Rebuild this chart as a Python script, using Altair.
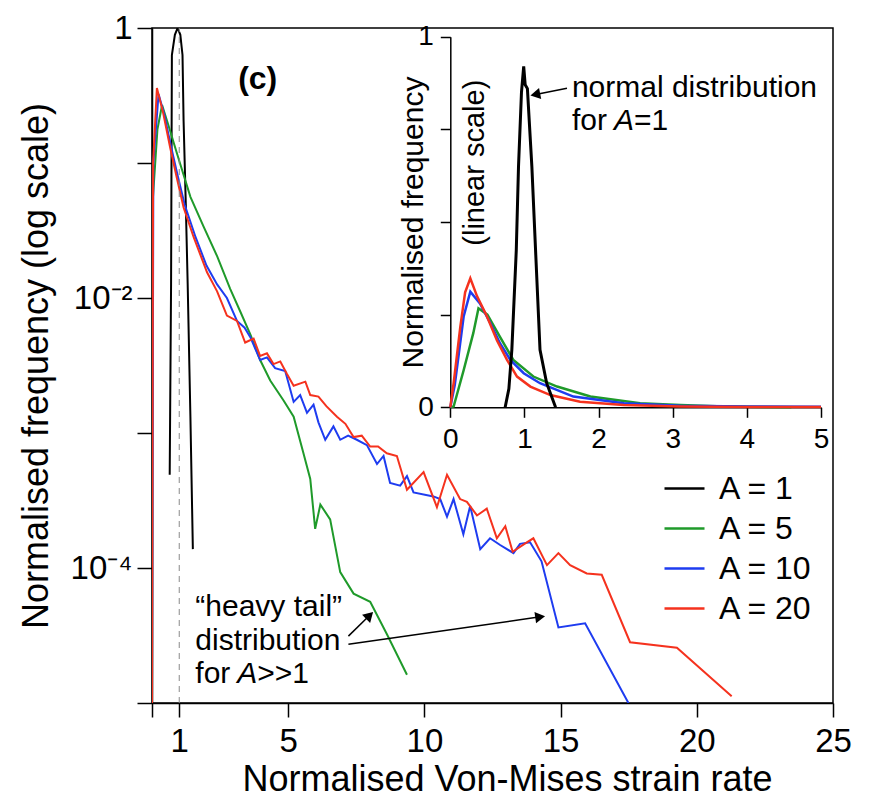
import altair as alt
import pandas as pd

FONT = "Liberation Sans, Arial, Helvetica, sans-serif"
SERIES = ["A = 1", "A = 5", "A = 10", "A = 20"]
COLORS = ["#000000", "#1f9a2a", "#1e3cf0", "#f5321e"]

# ---------------- main panel (log scale) ----------------
a1_x = [0.65, 0.70, 0.73, 0.84, 0.94, 1.04, 1.12, 1.16, 1.24, 1.31, 1.41, 1.50]
a1_y = [4.90e-4, 1.26e-2, 0.631, 0.891, 1.0, 0.891, 0.631, 0.204, 5.0e-2, 1.26e-2, 1.32e-3, 1.38e-4]

a5_x = [0.00, 0.02, 0.20, 0.37, 0.60, 0.92, 1.41, 1.89, 2.39, 2.87, 3.24, 3.61, 3.97, 4.34,
        4.83, 5.20, 5.56, 5.81, 5.99, 6.18, 6.54, 6.91, 7.40, 8.01, 8.62, 9.36]
a5_y = [1.0e-5, 5.01e-2, 0.178, 0.269, 0.191, 0.117, 5.62e-2, 3.39e-2, 2.04e-2, 1.17e-2, 7.94e-3,
        5.37e-3, 3.47e-3, 2.45e-3, 1.74e-3, 1.32e-3, 7.08e-4, 4.57e-4, 1.95e-4, 2.95e-4, 2.29e-4,
        9.33e-5, 6.46e-5, 5.62e-5, 3.24e-5, 1.62e-5]

a10_x = [0.00, 0.05, 0.24, 0.45, 0.70, 0.95, 1.20, 1.60, 2.00, 2.39, 2.75, 3.12, 3.40, 3.61, 3.97,
         4.22, 4.52, 4.89, 5.20, 5.44, 5.69, 5.93, 6.11, 6.36, 6.66, 6.91, 7.20, 7.52, 7.89, 8.26,
         8.50, 8.74, 9.11, 9.36, 9.60, 10.33, 10.58, 10.83, 11.07, 11.43, 11.68, 12.05, 12.41,
         12.78, 13.27, 13.51, 13.88, 14.30, 14.92, 15.90, 17.49]
a10_y = [1.0e-5, 0.100, 0.324, 0.229, 0.132, 7.94e-2, 4.90e-2, 2.82e-2, 1.74e-2, 1.26e-2, 1.00e-2,
         6.76e-3, 6.03e-3, 5.13e-3, 3.47e-3, 3.63e-3, 3.02e-3, 2.88e-3, 1.70e-3, 1.91e-3, 1.41e-3,
         1.62e-3, 1.20e-3, 8.91e-4, 1.12e-3, 8.91e-4, 9.55e-4, 8.91e-4, 8.13e-4, 5.89e-4, 6.76e-4,
         4.27e-4, 4.07e-4, 4.79e-4, 3.63e-4, 3.39e-4, 3.24e-4, 2.40e-4, 3.24e-4, 1.78e-4, 2.88e-4,
         1.38e-4, 1.66e-4, 1.48e-4, 1.29e-4, 1.51e-4, 1.55e-4, 1.12e-4, 3.63e-5, 3.89e-5, 1.0e-5]

a20_x = [0.00, 0.04, 0.18, 0.40, 0.67, 0.90, 1.16, 1.53, 2.02, 2.39, 2.75, 3.12, 3.42, 3.73, 3.97,
         4.22, 4.46, 4.71, 4.95, 5.20, 5.63, 5.81, 6.11, 6.40, 6.79, 7.10, 7.40, 7.70, 8.01, 8.30,
         8.62, 8.99, 9.36, 9.97, 10.46, 10.83, 11.31, 11.56, 11.93, 12.29, 12.66, 12.97, 13.24,
         13.76, 14.00, 14.50, 14.92, 15.35, 15.96, 16.51, 17.55, 19.27, 21.28]
a20_y = [1.0e-5, 0.100, 0.359, 0.240, 0.129, 7.94e-2, 4.68e-2, 2.82e-2, 1.55e-2, 1.12e-2, 7.41e-3,
         6.76e-3, 4.68e-3, 5.01e-3, 3.72e-3, 3.89e-3, 3.24e-3, 3.39e-3, 2.75e-3, 2.24e-3, 2.40e-3,
         1.91e-3, 1.86e-3, 1.58e-3, 1.32e-3, 1.17e-3, 9.33e-4, 9.55e-4, 7.94e-4, 7.94e-4, 7.08e-4,
         6.76e-4, 3.80e-4, 5.13e-4, 2.82e-4, 4.90e-4, 3.24e-4, 3.09e-4, 2.45e-4, 2.75e-4, 1.66e-4,
         2.04e-4, 1.32e-4, 1.55e-4, 1.66e-4, 1.05e-4, 1.29e-4, 1.05e-4, 9.12e-5, 8.91e-5, 2.82e-5,
         2.57e-5, 1.12e-5]

# ---------------- inset panel (linear scale) ----------------
in1_x = [0.74, 0.79, 0.83, 0.89, 0.92, 0.96, 0.99, 1.01, 1.04, 1.10, 1.15, 1.21, 1.30, 1.42]
in1_y = [0.0, 0.05, 0.155, 0.424, 0.65, 0.85, 0.92, 0.87, 0.86, 0.65, 0.424, 0.155, 0.065, 0.0]

in5_x = [0.0, 0.045, 0.18, 0.31, 0.38, 0.50, 0.67, 0.85, 1.12, 1.44, 1.89, 2.56, 3.10, 3.60, 4.20, 4.60]
in5_y = [0.0, 0.002, 0.10, 0.20, 0.267, 0.25, 0.19, 0.128, 0.083, 0.056, 0.029, 0.011, 0.006, 0.003, 0.001, 0.0]

in10_x = [0.0, 0.06, 0.18, 0.27, 0.40, 0.54, 0.67, 0.81, 0.99, 1.21, 1.66, 2.34, 3.10, 4.00, 5.00]
in10_y = [0.0, 0.06, 0.245, 0.312, 0.28, 0.227, 0.173, 0.128, 0.092, 0.065, 0.029, 0.011, 0.004, 0.002, 0.0015]

in20_x = [0.0, 0.045, 0.135, 0.20, 0.27, 0.36, 0.495, 0.63, 0.765, 0.90, 1.08, 1.35, 1.75, 2.34, 3.10, 4.00, 5.00]
in20_y = [0.0, 0.065, 0.217, 0.31, 0.348, 0.30, 0.245, 0.18, 0.128, 0.083, 0.056, 0.033, 0.015, 0.006, 0.002, 0.001, 0.0005]


def rows(xs, ys, name):
    return [{"x": a, "y": b, "series": name, "i": k} for k, (a, b) in enumerate(zip(xs, ys))]


main_df = pd.DataFrame(rows(a1_x, a1_y, SERIES[0]) + rows(a5_x, a5_y, SERIES[1])
                       + rows(a10_x, a10_y, SERIES[2]) + rows(a20_x, a20_y, SERIES[3]))
inset_df = pd.DataFrame(rows(in5_x, in5_y, SERIES[1]) + rows(in10_x, in10_y, SERIES[2])
                        + rows(in20_x, in20_y, SERIES[3]))
inset_black_df = pd.DataFrame(rows(in1_x, in1_y, SERIES[0]))

W, H = 681, 675
IN_BOTTOM, IN_TOP = 379.3, 8.7


# scales (identical definitions reused, so independent copies map identically)
def MX():
    return alt.Scale(domain=[0, 25], nice=False, zero=False)


def MY():
    return alt.Scale(type="log", domain=[1e-5, 1], nice=False)


def IX():
    return alt.Scale(domain=[0, 5], range=[298.3, 669], nice=False, zero=False)


def IY():
    return alt.Scale(domain=[0, 1], range=[IN_BOTTOM, IN_TOP], nice=False, zero=False)


LEG = alt.Legend(title=None, orient="none", legendX=511, legendY=439, symbolType="stroke",
                 symbolSize=1600, symbolStrokeWidth=2.5, labelFontSize=32, labelFont=FONT,
                 labelOffset=13, rowPadding=2, padding=0, labelColor="black", labelLimit=0)
COL = alt.Color("series:N", scale=alt.Scale(domain=SERIES, range=COLORS), legend=LEG)

exp_expr = "round(log(datum.value)/LN10)"
AX_MAIN = alt.Axis(orient="bottom", values=[0, 1, 5, 10, 15, 20, 25],
                   labelExpr="datum.value == 0 ? '' : datum.label",
                   tickSize=14, labelFontSize=33, labelPadding=8, labelOverlap=False, labelFlush=False,
                   title="Normalised Von-Mises strain rate", titleFontSize=36, titleX=355, titleY=87,
                   titleBaseline="alphabetic")
AY_MAIN = alt.Axis(orient="left", values=[1, 0.1, 0.01, 0.001, 0.0001, 0.00001],
                   labelExpr=(f"{exp_expr} == 0 ? '1' : {exp_expr} == -2 ? '10\u207b\u00b2' : "
                              f"{exp_expr} == -4 ? '10\u207b\u2074' : ''"),
                   tickSize=15, labelPadding=5, labelFontSize=33, labelOverlap=False,
                   title="Normalised frequency (log scale)", titleFontSize=36, titleAngle=270,
                   titleX=-105, titleY=H / 2, titleBaseline="alphabetic", titleAlign="center")
AX_IN = alt.Axis(orient="bottom", offset=IN_BOTTOM - H, values=[0, 1, 2, 3, 4, 5], tickSize=10,
                 labelFontSize=28, labelPadding=8, labelOverlap=False, labelFlush=False, title=None)
AY_IN = alt.Axis(orient="left", offset=-298.3, values=[0, 0.25, 0.5, 0.75, 1],
                 labelExpr="datum.value == 0 ? '0' : datum.value == 1 ? '1' : ''",
                 tickSize=10, labelFontSize=28, labelPadding=7, labelOverlap=False, labelFlush=False,
                 title="Normalised frequency", titleFontSize=30, titleAngle=270, titleX=-28,
                 titleY=(IN_BOTTOM + IN_TOP) / 2, titleBaseline="alphabetic", titleAlign="center")


def txt(x, y, t, xs, ys, **kw):
    df = pd.DataFrame({"x": [x], "y": [y], "t": [t]})
    params = dict(font=FONT, fontSize=30, color="black", align="left", baseline="alphabetic")
    params.update(kw)
    return alt.Chart(df).mark_text(**params).encode(
        x=alt.X("x:Q", scale=xs(), axis=None), y=alt.Y("y:Q", scale=ys(), axis=None), text="t:N")


def arrow(x0, y0, x1, y1, ang, xs, ys):
    df = pd.DataFrame({"x": [x0], "y": [y0], "x2": [x1], "y2": [y1]})
    line = alt.Chart(df).mark_rule(color="black", strokeWidth=1.5).encode(
        x=alt.X("x:Q", scale=xs(), axis=None), y=alt.Y("y:Q", scale=ys(), axis=None),
        x2="x2:Q", y2="y2:Q")
    head = alt.Chart(df).mark_point(shape="triangle", filled=True, size=130, color="black",
                                    opacity=1, angle=ang).encode(
        x=alt.X("x2:Q", scale=xs(), axis=None), y=alt.Y("y2:Q", scale=ys(), axis=None))
    return [line, head]


# ---- main layers ----
main_lines = alt.Chart(main_df).mark_line(strokeWidth=2, clip=True).encode(
    x=alt.X("x:Q", scale=MX(), axis=AX_MAIN),
    y=alt.Y("y:Q", scale=MY(), axis=AY_MAIN),
    color=COL, order="i:Q")

vline = alt.Chart(pd.DataFrame({"x": [1.0], "y": [1e-5], "y2": [1.0]})).mark_rule(
    color="#8a8a8a", strokeDash=[6, 5], strokeWidth=1).encode(
    x=alt.X("x:Q", scale=MX(), axis=None), y=alt.Y("y:Q", scale=MY(), axis=None), y2="y2:Q")

# ---- inset layers ----
inset_lines = alt.Chart(inset_df).mark_line(strokeWidth=2.5).encode(
    x=alt.X("x:Q", scale=IX(), axis=AX_IN),
    y=alt.Y("y:Q", scale=IY(), axis=AY_IN),
    color=COL, order="i:Q")
inset_black = alt.Chart(inset_black_df).mark_line(strokeWidth=3).encode(
    x=alt.X("x:Q", scale=IX(), axis=None),
    y=alt.Y("y:Q", scale=IY(), axis=None),
    color=COL, order="i:Q")

layers = [
    main_lines,
    vline,
    txt(3.88, 0.42, "(c)", MX, MY, fontSize=32, fontWeight="bold", align="center", baseline="middle"),
    txt(1.59, 4.39e-5, "\u201cheavy tail\u201d", MX, MY),
    txt(1.59, 2.47e-5, "distribution", MX, MY),
    txt(1.59, 1.41e-5, "for", MX, MY),
    txt(1.59, 1.41e-5, "A", MX, MY, fontStyle="italic", dx=42),
    txt(1.59, 1.41e-5, ">>1", MX, MY, dx=62),
    *arrow(7.21, 3.13e-5, 7.945, 4.37e-5, 45, MX, MY),
    *arrow(7.21, 2.72e-5, 14.19, 4.33e-5, 82, MX, MY),
    inset_lines,
    inset_black,
    txt(0.337, 0.66, "(linear scale)", IX, IY, fontSize=29, angle=270, align="center", baseline="middle"),
    txt(1.64, 0.838, "normal distribution", IX, IY),
    txt(1.64, 0.748, "for", IX, IY),
    txt(1.64, 0.748, "A", IX, IY, fontStyle="italic", dx=42),
    txt(1.64, 0.748, "=1", IX, IY, dx=62),
    *arrow(1.574, 0.861, 1.168, 0.845, 259, IX, IY),
]

chart = alt.layer(*layers).resolve_scale(
    x="independent", y="independent"
).properties(
    width=W, height=H,
    autosize=alt.AutoSizeParams(type="none"),
    padding={"left": 144, "top": 20, "right": 30, "bottom": 98},
    background="white",
).configure_view(
    stroke="black", strokeWidth=1.5
).configure_axis(
    domainColor="black", tickColor="black", labelColor="black", titleColor="black",
    labelFont=FONT, titleFont=FONT, titleFontWeight="normal", grid=False,
    domainWidth=1.5, tickWidth=1.5
).configure_legend(labelFont=FONT)

chart.save("out.html", embed_options={"renderer": "svg", "actions": False})
